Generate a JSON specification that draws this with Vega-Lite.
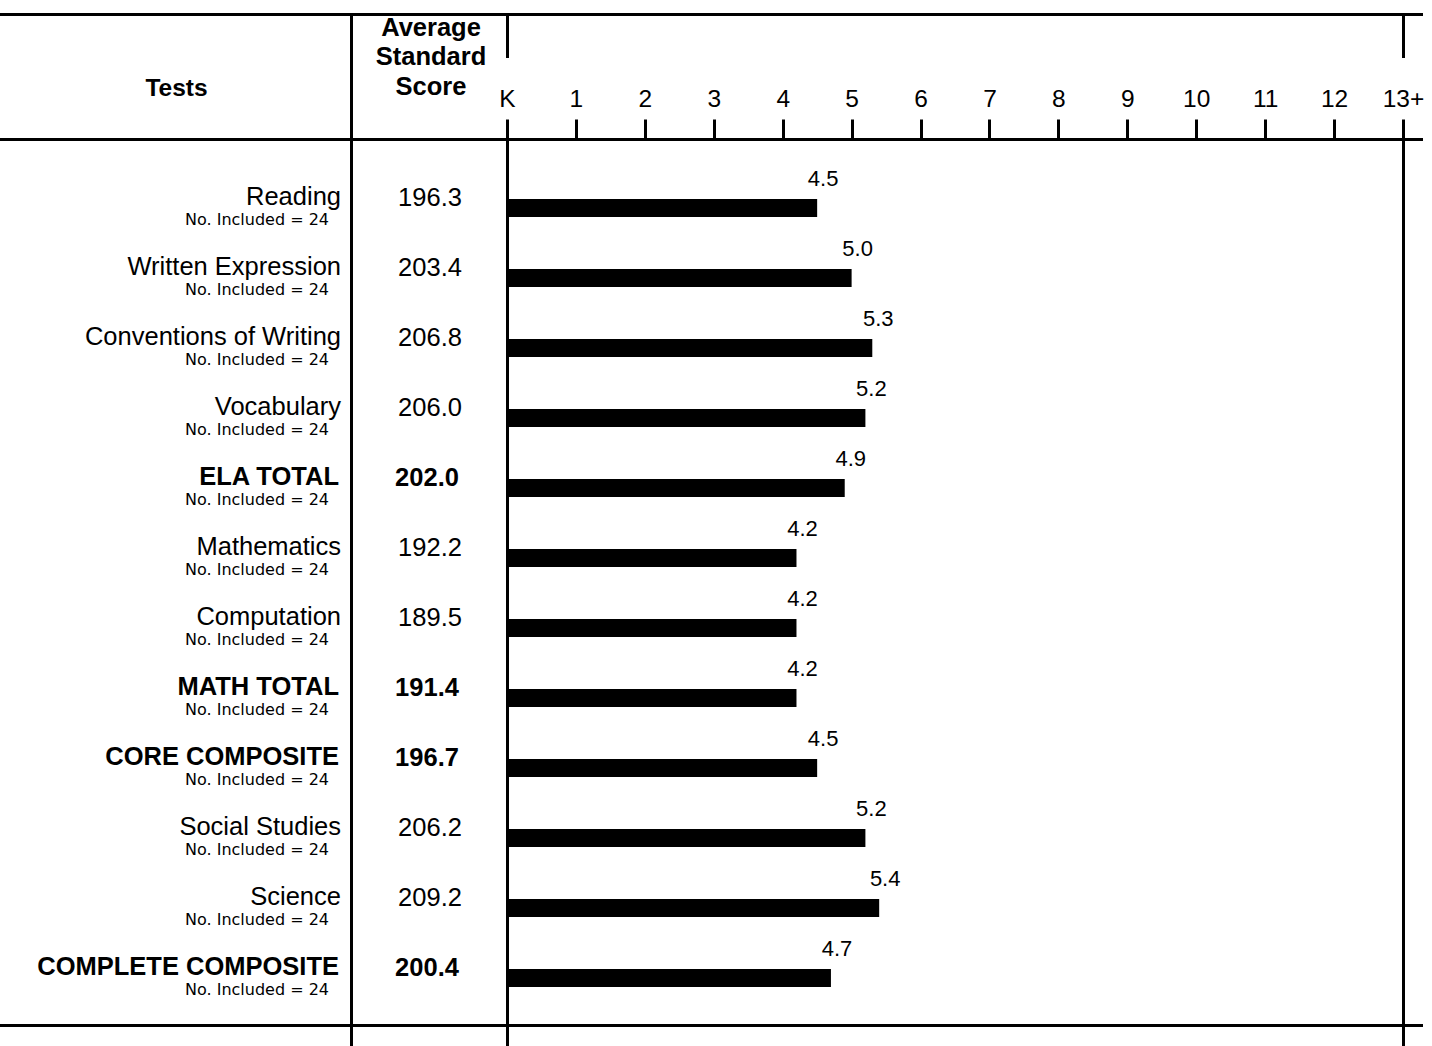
{
"$schema": "https://vega.github.io/schema/vega-lite/v6.json",
"background": "white",
"padding": {"top": 13, "left": 0, "right": 0, "bottom": 0},
"config": {"view": {"stroke": null}, "axis": {"domainColor": "black", "domainWidth": 3, "labels": false, "ticks": false, "grid": false, "domainCap": "square"}},
"datasets": {"tests": [
 {"test": "Reading", "score": 196.3, "grade": 4.5, "kind": "test", "included": "No. Included = 24"},
 {"test": "Written Expression", "score": 203.4, "grade": 5.0, "kind": "test", "included": "No. Included = 24"},
 {"test": "Conventions of Writing", "score": 206.8, "grade": 5.3, "kind": "test", "included": "No. Included = 24"},
 {"test": "Vocabulary", "score": 206.0, "grade": 5.2, "kind": "test", "included": "No. Included = 24"},
 {"test": "ELA TOTAL", "score": 202.0, "grade": 4.9, "kind": "total", "included": "No. Included = 24"},
 {"test": "Mathematics", "score": 192.2, "grade": 4.2, "kind": "test", "included": "No. Included = 24"},
 {"test": "Computation", "score": 189.5, "grade": 4.2, "kind": "test", "included": "No. Included = 24"},
 {"test": "MATH TOTAL", "score": 191.4, "grade": 4.2, "kind": "total", "included": "No. Included = 24"},
 {"test": "CORE COMPOSITE", "score": 196.7, "grade": 4.5, "kind": "total", "included": "No. Included = 24"},
 {"test": "Social Studies", "score": 206.2, "grade": 5.2, "kind": "test", "included": "No. Included = 24"},
 {"test": "Science", "score": 209.2, "grade": 5.4, "kind": "test", "included": "No. Included = 24"},
 {"test": "COMPLETE COMPOSITE", "score": 200.4, "grade": 4.7, "kind": "total", "included": "No. Included = 24"}
]},
"columns": 4,
"spacing": 0,
"align": "each",
"bounds": "flush",
"concat": [
 {"width": 351, "height": 42, "data": {"name": "tests"}, "mark": {"type": "point", "opacity": 0},
  "encoding": {"x": {"field": "grade", "type": "quantitative", "axis": {"orient": "top", "title": null}},
               "y": {"field": "test", "type": "nominal", "axis": {"orient": "right", "title": null}}}},
 {"width": 156, "height": 42, "data": {"name": "tests"}, "mark": {"type": "point", "opacity": 0},
  "encoding": {"x": {"field": "grade", "type": "quantitative", "axis": {"orient": "top", "title": null}},
               "y": {"field": "test", "type": "nominal", "axis": {"orient": "right", "title": null}}}},
 {"width": 896, "height": 42, "data": {"name": "tests"}, "mark": {"type": "point", "opacity": 0},
  "encoding": {"x": {"field": "grade", "type": "quantitative", "axis": {"orient": "top", "title": null}},
               "y": {"field": "test", "type": "nominal", "axis": {"orient": "right", "title": null}}}},
 {"width": 18, "height": 42, "data": {"name": "tests"}, "mark": {"type": "point", "opacity": 0},
  "encoding": {"x": {"field": "grade", "type": "quantitative", "axis": {"orient": "top", "title": null}}}},

 {"width": 351, "height": 83, "layer": [
   {"data": {"values": [{"h": "Tests"}]}, "mark": {"type": "text", "font": "Liberation Sans", "fontSize": 24.5, "fontWeight": "bold", "baseline": "middle", "dy": -8.5, "dx": 1, "color": "black"},
    "encoding": {"text": {"field": "h"}}},
   {"data": {"name": "tests"}, "mark": {"type": "point", "opacity": 0},
    "encoding": {"x": {"field": "grade", "type": "quantitative", "axis": {"orient": "bottom", "title": null}},
                 "y": {"field": "test", "type": "nominal", "axis": {"orient": "right", "title": null}}}}
 ]},
 {"width": 156, "height": 83, "layer": [
   {"data": {"values": [{"h": "Average Standard Score"}]}, "mark": {"type": "text", "font": "Liberation Sans", "fontSize": 25.5, "fontWeight": "bold", "baseline": "middle", "lineHeight": 29.5, "dy": -70, "dx": 2, "color": "black"},
    "encoding": {"text": {"value": ["Average", "Standard", "Score"]}}},
   {"data": {"name": "tests"}, "mark": {"type": "point", "opacity": 0},
    "encoding": {"x": {"field": "grade", "type": "quantitative", "axis": {"orient": "bottom", "title": null}}}}
 ]},
 {"width": 896, "height": 83, "data": {"name": "tests"}, "mark": {"type": "point", "opacity": 0}, "encoding": {}},
 {"width": 18, "height": 83, "data": {"name": "tests"}, "mark": {"type": "point", "opacity": 0},
  "encoding": {"x": {"field": "grade", "type": "quantitative", "axis": {"orient": "bottom", "title": null}}}},

 {"width": 351, "height": 886, "layer": [
   {"data": {"name": "tests"}, "transform": [{"filter": "datum.kind === 'test'"}],
    "mark": {"type": "text", "font": "Liberation Sans", "fontSize": 25.5, "align": "right", "baseline": "middle", "dx": -10, "color": "black"},
    "encoding": {"x": {"value": "width"},
                 "y": {"field": "test", "type": "nominal", "bandPosition": 0.343, "scale": {"type": "band", "domain": ["Reading","Written Expression","Conventions of Writing","Vocabulary","ELA TOTAL","Mathematics","Computation","MATH TOTAL","CORE COMPOSITE","Social Studies","Science","COMPLETE COMPOSITE"], "paddingInner": 0, "paddingOuter": 0.3286, "align": 0.739}, "axis": {"orient": "right", "title": null}},
                 "text": {"field": "test"}}},
   {"data": {"name": "tests"}, "transform": [{"filter": "datum.kind === 'total'"}],
    "mark": {"type": "text", "font": "Liberation Sans", "fontSize": 25.5, "fontWeight": "bold", "align": "right", "baseline": "middle", "dx": -12, "color": "black"},
    "encoding": {"x": {"value": "width"},
                 "y": {"field": "test", "type": "nominal", "bandPosition": 0.343, "scale": {"type": "band", "domain": ["Reading","Written Expression","Conventions of Writing","Vocabulary","ELA TOTAL","Mathematics","Computation","MATH TOTAL","CORE COMPOSITE","Social Studies","Science","COMPLETE COMPOSITE"], "paddingInner": 0, "paddingOuter": 0.3286, "align": 0.739}, "axis": {"orient": "right", "title": null}},
                 "text": {"field": "test"}}},
   {"data": {"name": "tests"},
    "mark": {"type": "text", "font": "DejaVu Sans", "fontSize": 16, "align": "right", "baseline": "middle", "dx": -22, "color": "black"},
    "encoding": {"x": {"value": "width"},
                 "y": {"field": "test", "type": "nominal", "bandPosition": 0.671, "scale": {"type": "band", "domain": ["Reading","Written Expression","Conventions of Writing","Vocabulary","ELA TOTAL","Mathematics","Computation","MATH TOTAL","CORE COMPOSITE","Social Studies","Science","COMPLETE COMPOSITE"], "paddingInner": 0, "paddingOuter": 0.3286, "align": 0.739}, "axis": {"orient": "right", "title": null}},
                 "text": {"field": "included"}}},
   {"data": {"name": "tests"}, "mark": {"type": "point", "opacity": 0},
    "encoding": {"x": {"field": "grade", "type": "quantitative", "axis": {"orient": "bottom", "title": null}},
                 "y": {"field": "test", "type": "nominal", "scale": {"type": "band", "domain": ["Reading","Written Expression","Conventions of Writing","Vocabulary","ELA TOTAL","Mathematics","Computation","MATH TOTAL","CORE COMPOSITE","Social Studies","Science","COMPLETE COMPOSITE"], "paddingInner": 0, "paddingOuter": 0.3286, "align": 0.739}, "axis": {"orient": "right", "title": null}}}}
 ]},
 {"width": 156, "height": 886, "layer": [
   {"data": {"name": "tests"}, "transform": [{"filter": "datum.kind === 'test'"}],
    "mark": {"type": "text", "font": "Liberation Sans", "fontSize": 25.5, "baseline": "middle", "dx": 1, "color": "black"},
    "encoding": {"y": {"field": "test", "type": "nominal", "bandPosition": 0.357, "scale": {"type": "band", "domain": ["Reading","Written Expression","Conventions of Writing","Vocabulary","ELA TOTAL","Mathematics","Computation","MATH TOTAL","CORE COMPOSITE","Social Studies","Science","COMPLETE COMPOSITE"], "paddingInner": 0, "paddingOuter": 0.3286, "align": 0.739}, "axis": {"orient": "right", "title": null}},
                 "text": {"field": "score", "type": "quantitative", "format": ".1f"}}},
   {"data": {"name": "tests"}, "transform": [{"filter": "datum.kind === 'total'"}],
    "mark": {"type": "text", "font": "Liberation Sans", "fontSize": 25.5, "fontWeight": "bold", "baseline": "middle", "dx": -2, "color": "black"},
    "encoding": {"y": {"field": "test", "type": "nominal", "bandPosition": 0.357, "scale": {"type": "band", "domain": ["Reading","Written Expression","Conventions of Writing","Vocabulary","ELA TOTAL","Mathematics","Computation","MATH TOTAL","CORE COMPOSITE","Social Studies","Science","COMPLETE COMPOSITE"], "paddingInner": 0, "paddingOuter": 0.3286, "align": 0.739}, "axis": {"orient": "right", "title": null}},
                 "text": {"field": "score", "type": "quantitative", "format": ".1f"}}},
   {"data": {"name": "tests"}, "mark": {"type": "point", "opacity": 0},
    "encoding": {"x": {"field": "grade", "type": "quantitative", "axis": {"orient": "bottom", "title": null}},
                 "y": {"field": "test", "type": "nominal", "scale": {"type": "band", "domain": ["Reading","Written Expression","Conventions of Writing","Vocabulary","ELA TOTAL","Mathematics","Computation","MATH TOTAL","CORE COMPOSITE","Social Studies","Science","COMPLETE COMPOSITE"], "paddingInner": 0, "paddingOuter": 0.3286, "align": 0.739}, "axis": {"orient": "right", "title": null}}}}
 ]},
 {"width": 896, "height": 886, "data": {"name": "tests"}, "layer": [
   {"mark": {"type": "bar", "height": 18, "color": "black"},
    "encoding": {"x": {"field": "grade", "type": "quantitative", "scale": {"domain": [0, 13], "nice": false},
                       "axis": {"orient": "top", "title": null, "values": [0,1,2,3,4,5,6,7,8,9,10,11,12,13], "labels": true, "ticks": true, "tickSize": 20, "tickWidth": 3, "tickColor": "black", "labelFont": "Liberation Sans", "labelFontSize": 24.5, "labelColor": "black", "labelPadding": 8, "labelFlush": false, "labelOverlap": false, "labelExpr": "datum.value === 0 ? 'K' : datum.value === 13 ? '13+' : datum.label"}},
                 "y": {"field": "test", "type": "nominal", "scale": {"type": "band", "domain": ["Reading","Written Expression","Conventions of Writing","Vocabulary","ELA TOTAL","Mathematics","Computation","MATH TOTAL","CORE COMPOSITE","Social Studies","Science","COMPLETE COMPOSITE"], "paddingInner": 0, "paddingOuter": 0.3286, "align": 0.739}, "axis": {"orient": "right", "title": null}}}},
   {"mark": {"type": "text", "font": "Liberation Sans", "fontSize": 22, "baseline": "middle", "dx": 6, "color": "black"},
    "encoding": {"x": {"field": "grade", "type": "quantitative", "scale": {"domain": [0, 13], "nice": false},
                       "axis": {"orient": "top", "title": null, "values": [0,1,2,3,4,5,6,7,8,9,10,11,12,13], "labels": true, "ticks": true, "tickSize": 20, "tickWidth": 3, "tickColor": "black", "labelFont": "Liberation Sans", "labelFontSize": 24.5, "labelColor": "black", "labelPadding": 8, "labelFlush": false, "labelOverlap": false, "labelExpr": "datum.value === 0 ? 'K' : datum.value === 13 ? '13+' : datum.label"}},
                 "y": {"field": "test", "type": "nominal", "bandPosition": 0.086, "scale": {"type": "band", "domain": ["Reading","Written Expression","Conventions of Writing","Vocabulary","ELA TOTAL","Mathematics","Computation","MATH TOTAL","CORE COMPOSITE","Social Studies","Science","COMPLETE COMPOSITE"], "paddingInner": 0, "paddingOuter": 0.3286, "align": 0.739}, "axis": {"orient": "right", "title": null}},
                 "text": {"field": "grade", "type": "quantitative", "format": ".1f"}}}
 ]},
 {"width": 18, "height": 886, "data": {"name": "tests"}, "mark": {"type": "point", "opacity": 0},
  "encoding": {"x": {"field": "grade", "type": "quantitative", "axis": {"orient": "bottom", "title": null}}}},

 {"width": 351, "height": 22, "data": {"name": "tests"}, "mark": {"type": "point", "opacity": 0},
  "encoding": {"y": {"field": "test", "type": "nominal", "axis": {"orient": "right", "title": null}}}},
 {"width": 156, "height": 22, "data": {"name": "tests"}, "mark": {"type": "point", "opacity": 0},
  "encoding": {"y": {"field": "test", "type": "nominal", "axis": {"orient": "right", "title": null}}}},
 {"width": 896, "height": 22, "data": {"name": "tests"}, "mark": {"type": "point", "opacity": 0},
  "encoding": {"x": {"field": "grade", "type": "quantitative", "axis": {"orient": "top", "title": null}},
               "y": {"field": "test", "type": "nominal", "axis": {"orient": "right", "title": null}}}},
 {"width": 18, "height": 22, "data": {"name": "tests"}, "mark": {"type": "point", "opacity": 0}, "encoding": {}}
]
}
